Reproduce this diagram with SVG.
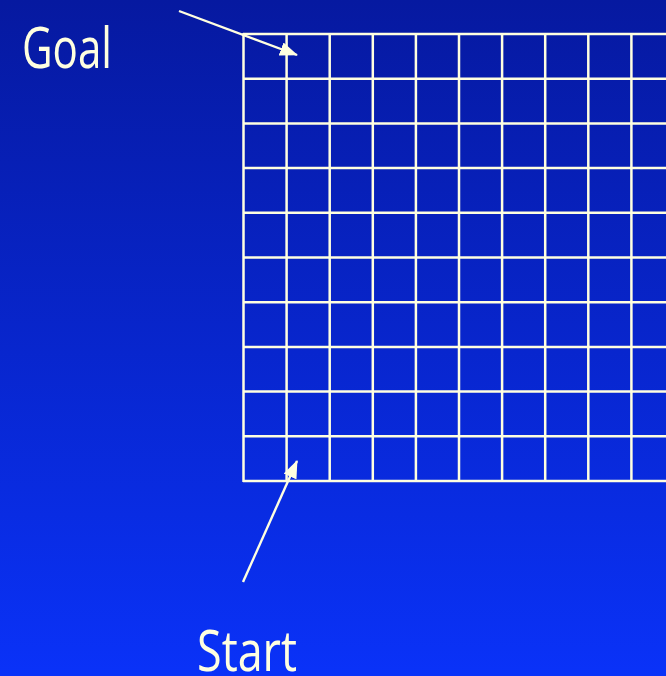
<svg xmlns="http://www.w3.org/2000/svg" width="666" height="676" viewBox="0 0 666 676">
<defs>
<linearGradient id="bg" x1="0" y1="0" x2="0" y2="1">
<stop offset="0" stop-color="#0619a0"/>
<stop offset="1" stop-color="#0a32f8"/>
</linearGradient>
<marker id="ah" markerWidth="18" markerHeight="14" refX="17" refY="7" orient="auto" markerUnits="userSpaceOnUse">
<path d="M0,0 L18,7 L0,14 Z" fill="#ffffe0"/>
</marker>
<style>
.grid line{stroke:#ffffe0;stroke-width:2.5}
.lbl{font-family:"Open Sans","Liberation Sans",sans-serif;font-size:57px;fill:#ffffe0}
.conn{stroke:#ffffe0;stroke-width:2.4;fill:none;marker-end:url(#ah)}
</style>
</defs>
<rect width="666" height="676" fill="url(#bg)"/>
<g id="grid" class="grid">
<line x1="243" y1="34" x2="680" y2="34"/>
<line x1="243" y1="78.7" x2="680" y2="78.7"/>
<line x1="243" y1="123.4" x2="680" y2="123.4"/>
<line x1="243" y1="168.1" x2="680" y2="168.1"/>
<line x1="243" y1="212.8" x2="680" y2="212.8"/>
<line x1="243" y1="257.5" x2="680" y2="257.5"/>
<line x1="243" y1="302.2" x2="680" y2="302.2"/>
<line x1="243" y1="346.9" x2="680" y2="346.9"/>
<line x1="243" y1="391.6" x2="680" y2="391.6"/>
<line x1="243" y1="436.3" x2="680" y2="436.3"/>
<line x1="243" y1="481" x2="680" y2="481"/>
<line x1="243.5" y1="33" x2="243.5" y2="482"/>
<line x1="286.6" y1="33" x2="286.6" y2="482"/>
<line x1="329.7" y1="33" x2="329.7" y2="482"/>
<line x1="372.8" y1="33" x2="372.8" y2="482"/>
<line x1="415.9" y1="33" x2="415.9" y2="482"/>
<line x1="459" y1="33" x2="459" y2="482"/>
<line x1="502.1" y1="33" x2="502.1" y2="482"/>
<line x1="545.2" y1="33" x2="545.2" y2="482"/>
<line x1="588.3" y1="33" x2="588.3" y2="482"/>
<line x1="631.4" y1="33" x2="631.4" y2="482"/>
</g>
<g id="goal"><text class="lbl" x="22" y="68" textLength="90" lengthAdjust="spacingAndGlyphs">Goal</text></g>
<g id="start"><text class="lbl" x="197" y="671" textLength="100" lengthAdjust="spacingAndGlyphs">Start</text></g>
<g id="connectors">
<line class="conn" x1="179" y1="11" x2="297" y2="55"/>
<line class="conn" x1="243" y1="582" x2="297" y2="461"/>
</g>
</svg>
